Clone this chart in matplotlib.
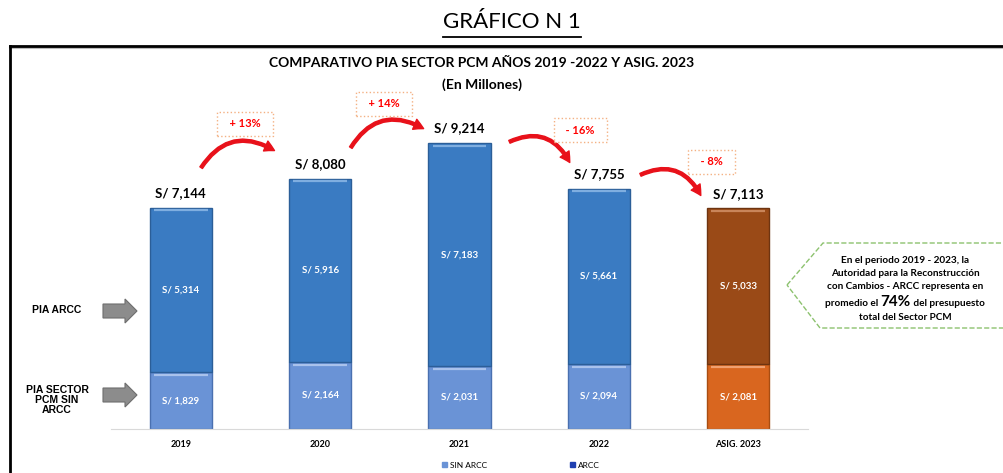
import matplotlib
matplotlib.use("Agg")
import matplotlib.pyplot as plt
from matplotlib.patches import Polygon, FancyArrow, FancyArrowPatch, Patch
from matplotlib.offsetbox import TextArea, HPacker, VPacker, AnnotationBbox

# data
years = ["2019", "2020", "2021", "2022", "ASIG. 2023"]
sin_arcc = [1829, 2164, 2031, 2094, 2081]
arcc = [5314, 5916, 7183, 5661, 5033]
totals = [7144, 8080, 9214, 7755, 7113]

plt.rcParams["font.family"] = ["Lato", "DejaVu Sans"]

W, H = 1004, 473
fig = plt.figure(figsize=(W / 100, H / 100), dpi=100)

# bar axes
ax = fig.add_axes([111 / W, 1 - 429 / H, 697 / W, 310 / H])
x = list(range(len(years)))
c_sin = ["#6A93D6"] * 4 + ["#D9661F"]
c_arcc = ["#3A7BC2"] * 4 + ["#9A4A17"]
e_sin = ["#4A70B0"] * 4 + ["#A84D12"]
e_arcc = ["#2B5E98"] * 4 + ["#6E3410"]
hl_sin = ["#A9C2EC"] * 4 + ["#F0A070"]
hl_arcc = ["#7FAEE0"] * 4 + ["#C9855A"]
bw = 0.445
ax.bar(x, sin_arcc, width=bw, color=c_sin, edgecolor=e_sin, linewidth=1)
ax.bar(x, arcc, bottom=sin_arcc, width=bw, color=c_arcc, edgecolor=e_arcc, linewidth=1)
# light bevel along the top of each segment
tops_sin = [v - 90 for v in sin_arcc]
tops_arcc = [s + a - 90 for s, a in zip(sin_arcc, arcc)]
ax.hlines(tops_sin, [i - bw / 2 + 0.03 for i in x], [i + bw / 2 - 0.03 for i in x],
          colors=hl_sin, lw=1.6)
ax.hlines(tops_arcc, [i - bw / 2 + 0.03 for i in x], [i + bw / 2 - 0.03 for i in x],
          colors=hl_arcc, lw=1.6)

for i in x:
    ax.text(i, sin_arcc[i] / 2, f"S/ {sin_arcc[i]:,}", ha="center", va="center",
            color="white", fontsize=7, fontweight="bold")
    ax.text(i, sin_arcc[i] + arcc[i] / 2, f"S/ {arcc[i]:,}", ha="center", va="center",
            color="white", fontsize=7, fontweight="bold")
    ax.text(i, totals[i] + 480, f"S/ {totals[i]:,}", ha="center", va="center",
            color="black", fontsize=9.5, fontweight="bold")

ax.set_xlim(-0.5, 4.5)
ax.set_ylim(0, 10000)
ax.set_yticks([])
ax.set_xticks(x, years, fontsize=6.5, fontweight="bold")
ax.tick_params(axis="x", length=0, pad=8)
for s in ["top", "left", "right"]:
    ax.spines[s].set_visible(False)
ax.spines["bottom"].set_color("#D9D9D9")

# curved change arrows + percentage boxes (layout offsets)
s_dx = [0.136, 0.21, 0.34, 0.28]
s_dy = [1211, 920, 12, 406]
e_dx = [0.69, 0.76, 0.80, 0.74]
e_dy = [855, 431, 761, 339]
p_dx = [0.46, 0.457, 0.867, 0.806]
p_dy = [1759, 1270, 1890, 1500]
for i in range(4):
    a = FancyArrowPatch((i + s_dx[i], totals[i] + s_dy[i]),
                        (i + e_dx[i], totals[i + 1] + e_dy[i]),
                        connectionstyle="arc3,rad=-0.5",
                        arrowstyle="simple,head_length=0.55,head_width=0.6,tail_width=0.17",
                        mutation_scale=13, color="#E8111A", clip_on=False)
    ax.add_patch(a)
    pct = round((totals[i + 1] / totals[i] - 1) * 100)
    lab = f"+ {pct}%" if pct > 0 else f"- {abs(pct)}%"
    ax.text(i + p_dx[i], totals[i + 1] + p_dy[i], f"  {lab}  ", ha="center", va="center",
            color="#FF0000", fontsize=8, fontweight="bold", clip_on=False,
            bbox=dict(boxstyle="square,pad=0.6", fc="white", ec="#F4B183",
                      ls=":", lw=1))

# overlay in pixel coordinates
ov = fig.add_axes([0, 0, 1, 1])
ov.set_xlim(0, W)
ov.set_ylim(H, 0)
ov.axis("off")

ov.plot([10, W], [48, 48], color="#BBBBBB", lw=1.5)
ov.plot([10, W], [46, 46], color="black", lw=2)
ov.plot([10, 10], [46, H], color="black", lw=2)

t = ov.text(512, 22, "GRÁFICO N 1", ha="center", va="center", fontsize=16)
fig.canvas.draw()
bb = t.get_window_extent().transformed(ov.transData.inverted())
ov.plot([bb.x0, bb.x1], [37, 37], color="black", lw=1.3)

ov.text(482, 63, "COMPARATIVO PIA SECTOR PCM AÑOS 2019 -2022 Y ASIG. 2023",
        ha="center", va="center", fontsize=10, fontweight="bold")
ov.text(482, 85, "(En Millones)", ha="center", va="center", fontsize=10, fontweight="bold")

# left labels with gray block arrows
ov.text(57, 310, "PIA ARCC", ha="center", va="center", fontsize=7.5,
        fontweight="bold", family="Liberation Sans")
ov.text(57, 400, "PIA SECTOR\nPCM SIN\nARCC", ha="center", va="center", fontsize=7.5,
        fontweight="bold", family="Liberation Sans", linespacing=1.0)
for yy in [311, 395]:
    ov.add_patch(FancyArrow(103, yy, 34, 0, width=14, head_width=24, head_length=12,
                            length_includes_head=True, fc="#8C8C8C", ec="#6E6E6E", lw=0.8))

# callout on the right
ov.add_patch(Polygon([(787, 285), (823, 243), (1010, 243), (1010, 328), (820, 328)],
                     closed=True, fill=False, ec="#8DC26F", ls="--", lw=1))
fs = 7.2
tp = dict(fontsize=fs, fontweight="bold")
line4 = HPacker(children=[TextArea("promedio el ", textprops=tp),
                          TextArea("74%", textprops=dict(fontsize=11, fontweight="bold")),
                          TextArea(" del presupuesto", textprops=tp)],
                align="baseline", pad=0, sep=0)
box = VPacker(children=[TextArea("En el periodo 2019 - 2023, la", textprops=tp),
                        TextArea("Autoridad para la Reconstrucción", textprops=tp),
                        TextArea("con Cambios - ARCC representa en", textprops=tp),
                        line4,
                        TextArea("total del Sector PCM", textprops=tp)],
              align="center", pad=0, sep=3)
ov.add_artist(AnnotationBbox(box, (905, 289), frameon=False, box_alignment=(0.5, 0.5)))

fig.legend(handles=[Patch(color="#6A93D6", label="SIN ARCC"),
                    Patch(color="#1F3FB0", label="ARCC")],
           loc="center", bbox_to_anchor=(521 / W, 1 - 465 / H), ncol=2, frameon=False,
           fontsize=6, handlelength=0.6, handleheight=0.6, handletextpad=0.3,
           columnspacing=10)

fig.savefig("out.png", dpi=100)
